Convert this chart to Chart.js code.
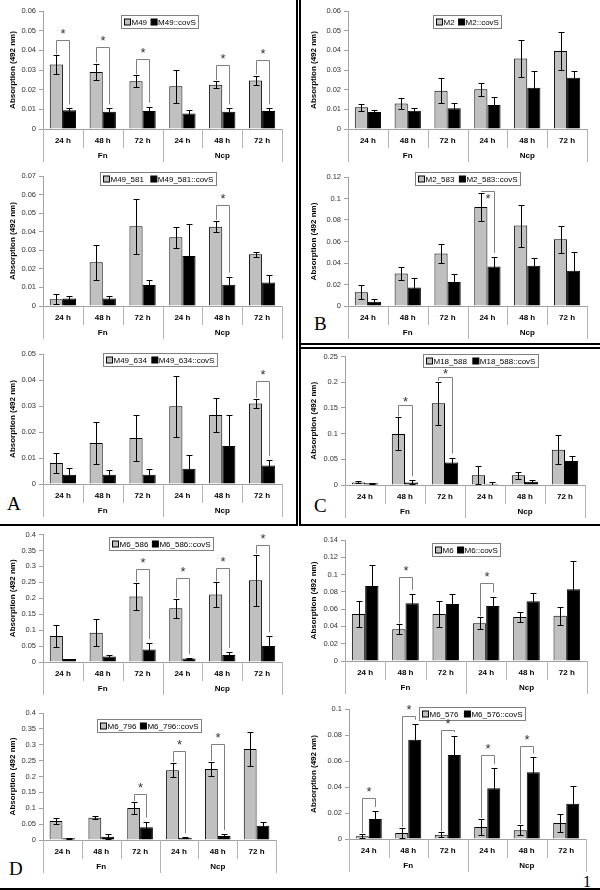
<!DOCTYPE html>
<html>
<head>
<meta charset="utf-8">
<script src="https://cdn.jsdelivr.net/npm/chart.js@4.4.0/dist/chart.umd.min.js"></script>
<style>
body { margin: 0; background: #fff; }
#fig { position: relative; width: 600px; height: 890px; overflow: hidden; }
#fig canvas { position: absolute; }
.line { position: absolute; background: #000; }
.letter { position: absolute; font-family: "Liberation Serif", "DejaVu Serif", serif; font-size: 19px; line-height: 1; }
</style>
</head>
<body>
<div id="fig">
  <div class="line" style="left:296px;top:0;width:2px;height:526px"></div>
  <div class="line" style="left:0;top:524px;width:298px;height:2px"></div>
  <div class="line" style="left:299px;top:0;width:2px;height:526px"></div>
  <div class="line" style="left:299px;top:343px;width:301px;height:2px"></div>
  <div class="line" style="left:299px;top:347px;width:301px;height:2px"></div>
  <div class="line" style="left:299px;top:524px;width:301px;height:2px"></div>
  <div class="line" style="left:0;top:888px;width:600px;height:2px"></div>
  <div class="letter" style="left:7px;top:494px">A</div>
  <div class="letter" style="left:314px;top:314px">B</div>
  <div class="letter" style="left:314px;top:496px">C</div>
  <div class="letter" style="left:9px;top:859px">D</div>
  <div class="letter" style="left:583px;top:874px;font-size:16px">1</div>
</div>
<script>
var times = ['24 h', '48 h', '72 h', '24 h', '48 h', '72 h'];
var substrates = ['Fn', 'Ncp'];

// each panel: wild type (grey) and ::covS mutant (black), mean and error
var m49 = [0.0328, 0.029, 0.0243, 0.0217, 0.0225, 0.0247];
var m49Err = [0.0046, 0.0043, 0.003, 0.0085, 0.0018, 0.0025];
var m49CovS = [0.0095, 0.0088, 0.0091, 0.0079, 0.0088, 0.0091];
var m49CovSErr = [0.001, 0.0017, 0.0022, 0.002, 0.0017, 0.0014];
var m49Sig = [[0, 0.0454], [1, 0.0417], [2, 0.0355], [4, 0.0324], [5, 0.035]];

var m49_581 = [0.0036, 0.0235, 0.0429, 0.037, 0.0427, 0.0278];
var m49_581Err = [0.0027, 0.0095, 0.0147, 0.0056, 0.0031, 0.0013];
var m49_581CovS = [0.0041, 0.0041, 0.0113, 0.0269, 0.0115, 0.0126];
var m49_581CovSErr = [0.0015, 0.0015, 0.0025, 0.0173, 0.0043, 0.0043];
var m49_581Sig = [[4, 0.0544]];

var m49_634 = [0.0081, 0.0158, 0.0177, 0.0299, 0.0265, 0.031];
var m49_634Err = [0.004, 0.0082, 0.0088, 0.0117, 0.0065, 0.0018];
var m49_634CovS = [0.0036, 0.0036, 0.0036, 0.0059, 0.0146, 0.0071];
var m49_634CovSErr = [0.0026, 0.0017, 0.0022, 0.0053, 0.012, 0.0022];
var m49_634Sig = [[5, 0.0395]];

var m2 = [0.011, 0.013, 0.0195, 0.0202, 0.0358, 0.0397];
var m2Err = [0.0018, 0.0027, 0.0063, 0.0034, 0.0095, 0.0097];
var m2CovS = [0.0086, 0.0093, 0.0105, 0.0122, 0.021, 0.0261];
var m2CovSErr = [0.0012, 0.0012, 0.0029, 0.0039, 0.0085, 0.0034];
var m2Sig = [];

var m2_583 = [0.0127, 0.0303, 0.0488, 0.0921, 0.0748, 0.0621];
var m2_583Err = [0.0065, 0.0062, 0.0085, 0.013, 0.0195, 0.0125];
var m2_583CovS = [0.004, 0.0173, 0.0223, 0.0368, 0.0374, 0.0328];
var m2_583CovSErr = [0.0022, 0.0084, 0.0071, 0.009, 0.0071, 0.0176];
var m2_583Sig = [[3, 0.1067]];

var m18_588 = [0.0051, 0.0994, 0.159, 0.0192, 0.0192, 0.0686];
var m18_588Err = [0.002, 0.032, 0.042, 0.018, 0.007, 0.028];
var m18_588CovS = [0.0032, 0.0051, 0.0436, 0.0026, 0.0064, 0.0468];
var m18_588CovSErr = [0.0013, 0.004, 0.0096, 0.003, 0.0026, 0.0102];
var m18_588Sig = [[1, 0.155], [2, 0.2096]];

var m6_586 = [0.0813, 0.0916, 0.2058, 0.1687, 0.212, 0.2562];
var m6_586Err = [0.034, 0.042, 0.042, 0.03, 0.038, 0.08];
var m6_586CovS = [0.0093, 0.0175, 0.039, 0.0113, 0.0216, 0.0504];
var m6_586CovSErr = [0.001, 0.004, 0.02, 0.001, 0.01, 0.03];
var m6_586Sig = [[2, 0.292], [3, 0.2644], [4, 0.2953], [5, 0.367]];

var m6 = [0.0544, 0.0366, 0.0544, 0.0436, 0.0509, 0.0524];
var m6Err = [0.0145, 0.0058, 0.0145, 0.0068, 0.0062, 0.0106];
var m6CovS = [0.0868, 0.0667, 0.0659, 0.0636, 0.069, 0.0829];
var m6CovSErr = [0.024, 0.011, 0.0116, 0.011, 0.01, 0.033];
var m6Sig = [[1, 0.0976], [3, 0.0899]];

var m6_796 = [0.0599, 0.0704, 0.1008, 0.2195, 0.2237, 0.2867];
var m6_796Err = [0.01, 0.005, 0.019, 0.0225, 0.0225, 0.0525];
var m6_796CovS = [0.0053, 0.0105, 0.0399, 0.0074, 0.0126, 0.0452];
var m6_796CovSErr = [0.001, 0.0074, 0.018, 0.001, 0.006, 0.0115];
var m6_796Sig = [[2, 0.146], [3, 0.2794], [4, 0.3036]];

var m6_576 = [0.0021, 0.0046, 0.0033, 0.0092, 0.0067, 0.0123];
var m6_576Err = [0.0017, 0.004, 0.0018, 0.0062, 0.004, 0.0067];
var m6_576CovS = [0.0154, 0.0764, 0.0646, 0.039, 0.0513, 0.0272];
var m6_576CovSErr = [0.0061, 0.0123, 0.0146, 0.0156, 0.0115, 0.0136];
var m6_576Sig = [[0, 0.0315], [1, 0.0944], [2, 0.0841], [3, 0.0649], [4, 0.0718]];

var FONT = '"Liberation Sans", Arial, sans-serif';
Chart.defaults.font.family = FONT;

// error bars, brackets, two-level x labels and the boxed legend
var panelPlugin = {
  id: 'panel',
  afterDatasetsDraw: function(chart, args, o) {
    var ctx = chart.ctx, y = chart.scales.y, a = chart.chartArea;
    ctx.save();
    ctx.beginPath();
    ctx.rect(a.left, a.top - 1, a.right - a.left, a.bottom - a.top + 1);
    ctx.clip();
    ctx.strokeStyle = '#000';
    ctx.lineWidth = 1;
    chart.data.datasets.forEach(function(d, i) {
      chart.getDatasetMeta(i).data.forEach(function(bar, j) {
        var hi = Math.round(y.getPixelForValue(d.data[j] + d.errors[j])) + 0.5;
        var lo = Math.round(y.getPixelForValue(d.data[j] - d.errors[j])) + 0.5;
        var cx = Math.round(bar.x) + 0.5;
        ctx.beginPath();
        ctx.moveTo(cx, hi); ctx.lineTo(cx, lo);
        ctx.moveTo(cx - 3, hi); ctx.lineTo(cx + 3, hi);
        ctx.moveTo(cx - 3, lo); ctx.lineTo(cx + 3, lo);
        ctx.stroke();
      });
    });
    ctx.restore();
  },
  afterDraw: function(chart, args, o) {
    var ctx = chart.ctx, x = chart.scales.x, y = chart.scales.y, a = chart.chartArea;
    var ds = chart.data.datasets;
    ctx.save();
    ctx.strokeStyle = '#b4b4b4';
    ctx.lineWidth = 1;
    for (var k = 0; k <= x.ticks.length; k++) {
      var px = Math.round(x.getPixelForValue(k - 0.5)) + 0.5;
      ctx.beginPath();
      ctx.moveTo(px, a.bottom);
      ctx.lineTo(px, a.bottom + (k % 3 === 0 ? 33 : 19));
      ctx.stroke();
    }
    ctx.fillStyle = '#000';
    ctx.font = 'bold 8px ' + FONT;
    ctx.textAlign = 'center';
    ctx.textBaseline = 'middle';
    o.groups.forEach(function(name, i) {
      ctx.fillText(name, x.getPixelForValue(i * 3 + 1), a.bottom + 27);
    });

    // legend box
    ctx.font = '8px ' + FONT;
    ctx.textAlign = 'left';
    var widths = ds.map(function(d) { return ctx.measureText(d.label).width; });
    var w = 6 + (ds.length - 1) * o.gap;
    widths.forEach(function(tw) { w += 7 + tw; });
    var lx = Math.round(o.lgX - o.left - w / 2) + 0.5;
    var ly = Math.round(a.top + o.lgTop) + 0.5;
    ctx.fillStyle = '#fff';
    ctx.fillRect(lx, ly, w, 13);
    ctx.strokeStyle = '#808080';
    ctx.strokeRect(lx, ly, Math.round(w), 13);
    var cx = lx + 3;
    ds.forEach(function(d, i) {
      ctx.fillStyle = d.backgroundColor;
      ctx.fillRect(cx, ly + 3.5, 6, 6);
      ctx.strokeStyle = '#000';
      ctx.strokeRect(cx, ly + 3.5, 6, 6);
      ctx.fillStyle = '#000';
      ctx.fillText(d.label, cx + 7, ly + 7);
      cx += 7 + widths[i] + o.gap;
    });

    // significance brackets
    var g = chart.getDatasetMeta(0).data, b = chart.getDatasetMeta(1).data;
    ctx.strokeStyle = '#808080';
    ctx.fillStyle = '#333';
    ctx.font = '13px ' + FONT;
    ctx.textAlign = 'center';
    ctx.textBaseline = 'alphabetic';
    o.sig.forEach(function(s) {
      var j = s[0];
      var x1 = Math.round(g[j].x) + 0.5, x2 = Math.round(b[j].x) + 0.5;
      var yl = Math.round(y.getPixelForValue(s[1])) + 0.5;
      var y1 = y.getPixelForValue(ds[0].data[j] + ds[0].errors[j]) - 1;
      var y2 = y.getPixelForValue(ds[1].data[j] + ds[1].errors[j]) - 4;
      ctx.beginPath();
      ctx.moveTo(x1, y1); ctx.lineTo(x1, yl); ctx.lineTo(x2, yl); ctx.lineTo(x2, y2);
      ctx.stroke();
      ctx.fillText('*', (x1 + x2) / 2, yl + o.starY);
    });
    ctx.restore();
  }
};

function makePanel(p) {
  var fig = document.getElementById('fig');
  var cv = document.createElement('canvas');
  cv.width = p.box[2];
  cv.height = p.box[3];
  cv.style.left = p.box[0] + 'px';
  cv.style.top = p.box[1] + 'px';
  cv.style.width = p.box[2] + 'px';
  cv.style.height = p.box[3] + 'px';
  fig.appendChild(cv);

  return new Chart(cv, {
    type: 'bar',
    data: {
      labels: times,
      datasets: [
        { label: p.names[0], data: p.gray, errors: p.grayErr, backgroundColor: '#c0c0c0', borderColor: '#000', borderWidth: 1 },
        { label: p.names[1], data: p.black, errors: p.blackErr, backgroundColor: '#000', borderColor: '#000', borderWidth: 1 }
      ]
    },
    options: {
      responsive: false,
      animation: false,
      events: [],
      layout: {
        padding: { left: 0, bottom: 0, top: p.plot[2] - p.box[1], right: p.box[0] + p.box[2] - p.plot[1] }
      },
      datasets: { bar: { categoryPercentage: 0.66, barPercentage: 1 } },
      scales: {
        x: {
          offset: true,
          grid: { drawOnChartArea: false, drawTicks: false },
          border: { color: '#a0a0a0' },
          ticks: { color: '#000', font: { size: 8, weight: 'bold' }, padding: 7, maxRotation: 0, autoSkip: false },
          afterFit: function(s) { s.height = p.box[1] + p.box[3] - p.plot[3]; }
        },
        y: {
          min: 0,
          max: p.yMax,
          grid: { drawOnChartArea: false, drawTicks: true, tickLength: 4, color: '#a0a0a0' },
          border: { color: '#a0a0a0' },
          ticks: {
            stepSize: p.yStep,
            color: '#333',
            font: { size: 7.5 },
            padding: 3,
            callback: function(v) { return String(+v.toFixed(3)); }
          },
          title: {
            display: true,
            text: 'Absorption (492 nm)',
            color: '#000',
            font: { size: 8, weight: 'bold' },
            padding: { top: 8, bottom: 0 }
          },
          afterFit: function(s) { s.width = p.plot[0] - p.box[0]; }
        }
      },
      plugins: {
        legend: { display: false },
        tooltip: { enabled: false },
        panel: { sig: p.sig, groups: substrates, gap: p.gap, lgX: p.lgX, lgTop: p.lgTop,
          left: p.box[0], starY: p.starY === undefined ? -2.5 : p.starY }
      }
    },
    plugins: [panelPlugin]
  });
}

// box: left, top, width, height of canvas; plot: x0, x1, top, axis
makePanel({ box: [0, 0, 296, 166], plot: [43, 282, 11, 129], names: ['M49', 'M49::covS'],
  gray: m49, grayErr: m49Err, black: m49CovS, blackErr: m49CovSErr, sig: m49Sig,
  yMax: 0.06, yStep: 0.01, gap: 4, lgX: 160, lgTop: 4 });
makePanel({ box: [0, 166, 296, 174], plot: [43, 282, 176, 306], names: ['M49_581', 'M49_581::covS'],
  gray: m49_581, grayErr: m49_581Err, black: m49_581CovS, blackErr: m49_581CovSErr, sig: m49_581Sig,
  yMax: 0.07, yStep: 0.01, gap: 7, lgX: 158, lgTop: -4 });
makePanel({ box: [0, 340, 296, 183], plot: [43, 282, 354, 484], names: ['M49_634', 'M49_634::covS'],
  gray: m49_634, grayErr: m49_634Err, black: m49_634CovS, blackErr: m49_634CovSErr, sig: m49_634Sig,
  yMax: 0.05, yStep: 0.01, gap: 5, lgX: 160, lgTop: -1 });
makePanel({ box: [301, 0, 299, 166], plot: [348, 587, 11, 129], names: ['M2', 'M2::covS'],
  gray: m2, grayErr: m2Err, black: m2CovS, blackErr: m2CovSErr, sig: m2Sig,
  yMax: 0.06, yStep: 0.01, gap: 4, lgX: 467, lgTop: 4 });
makePanel({ box: [301, 166, 299, 176], plot: [348, 587, 177, 306], names: ['M2_583', 'M2_583::covS'],
  gray: m2_583, grayErr: m2_583Err, black: m2_583CovS, blackErr: m2_583CovSErr, sig: m2_583Sig,
  yMax: 0.12, yStep: 0.02, gap: 5, lgX: 468, lgTop: -5, starY: 11 });
makePanel({ box: [301, 349, 299, 174], plot: [345, 585, 355, 485], names: ['M18_588', 'M18_588::covS'],
  gray: m18_588, grayErr: m18_588Err, black: m18_588CovS, blackErr: m18_588CovSErr, sig: m18_588Sig,
  yMax: 0.25, yStep: 0.05, gap: 6, lgX: 480, lgTop: -3, starY: 0 });
makePanel({ box: [0, 527, 296, 173], plot: [43, 282, 533, 662], names: ['M6_586', 'M6_586::covS'],
  gray: m6_586, grayErr: m6_586Err, black: m6_586CovS, blackErr: m6_586CovSErr, sig: m6_586Sig,
  yMax: 0.4, yStep: 0.05, gap: 4, lgX: 161, lgTop: 2 });
makePanel({ box: [301, 527, 299, 173], plot: [345, 587, 540, 661], names: ['M6', 'M6::covS'],
  gray: m6, grayErr: m6Err, black: m6CovS, blackErr: m6CovSErr, sig: m6Sig,
  yMax: 0.14, yStep: 0.02, gap: 4, lgX: 466, lgTop: 3 });
makePanel({ box: [0, 700, 296, 188], plot: [43, 276, 713, 840], names: ['M6_796', 'M6_796::covS'],
  gray: m6_796, grayErr: m6_796Err, black: m6_796CovS, blackErr: m6_796CovSErr, sig: m6_796Sig,
  yMax: 0.4, yStep: 0.05, gap: 4, lgX: 149, lgTop: 6 });
makePanel({ box: [301, 700, 299, 188], plot: [349, 586, 709, 839], names: ['M6_576', 'M6_576::covS'],
  gray: m6_576, grayErr: m6_576Err, black: m6_576CovS, blackErr: m6_576CovSErr, sig: m6_576Sig,
  yMax: 0.1, yStep: 0.02, gap: 6, lgX: 472, lgTop: -2 });
</script>
</body>
</html>
